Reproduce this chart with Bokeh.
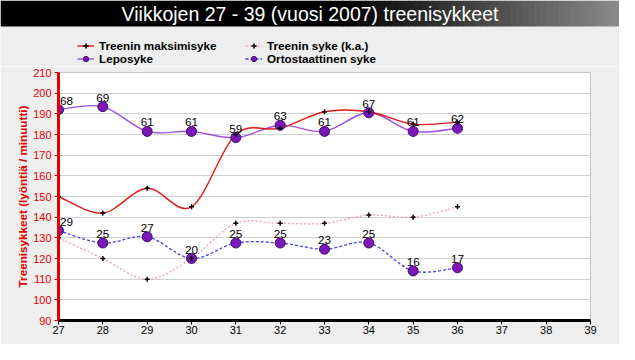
import numpy as np
from bokeh.plotting import figure
from bokeh.layouts import column
from bokeh.models import Range1d, ColumnDataSource, FixedTicker, Legend, LegendItem
from bokeh.core.properties import value
from bokeh.embed import file_html
from bokeh.resources import INLINE

# ---------------- data ----------------
title_text = "Viikkojen 27 - 39 (vuosi 2007) treenisykkeet"
y_label = "Treenisykkeet (lyöntiä / minuutti)"
weeks = [27, 28, 29, 30, 31, 32, 33, 34, 35, 36]
max_hr = [150, 142, 154, 145, 180, 183, 191, 191, 185, 186]      # Treenin maksimisyke
avg_hr = [130, 120, 110, 120, 137, 137, 137, 141, 140, 145]      # Treenin syke (k.a.)
rest_hr = [68, 69, 61, 61, 59, 63, 61, 67, 61, 62]               # Leposyke
orto_hr = [29, 25, 27, 20, 25, 25, 23, 25, 16, 17]               # Ortostaattinen syke
x_ticks = list(range(27, 40))
y_ticks = list(range(90, 211, 10))
names = ["Treenin maksimisyke", "Treenin syke (k.a.)", "Leposyke", "Ortostaattinen syke"]

FONT = "Liberation Sans"
RED = "#e01818"
PINK = "#eaa0b0"
LILA = "#a050e0"
BLUE = "#4444e0"
MFILL = "#7a18b8"
MLINE = "#3c0868"
BG = "#eeeeee"

W = 619
HH = 66          # header (title bar + legend)
HM = 278         # main chart

# ---------------- header: title bar + legend ----------------
h = figure(width=W, height=HH, output_backend="svg", toolbar_location=None,
           x_range=Range1d(0, W), y_range=Range1d(HH, 0),
           x_axis_location=None, y_axis_location=None,
           min_border_left=0, min_border_right=0, min_border_top=0, min_border_bottom=0,
           background_fill_color=BG, border_fill_color=BG, outline_line_color=None)
h.grid.visible = False
h.frame_align = False

bar_bottom = 26
g0 = 342
h.quad(left=[0], right=[g0 + 1], top=[0], bottom=[bar_bottom], fill_color="black", line_color=None)
steps = 46
lefts = [g0 + (W - g0) * k / steps for k in range(steps)]
rights = [g0 + (W - g0) * (k + 1) / steps + 0.6 for k in range(steps)]
cols = ["#%02x%02x%02x" % ((int(round(0x8a * (k + 0.5) / steps)),) * 3) for k in range(steps)]
h.quad(left=lefts, right=rights, top=[0] * steps, bottom=[bar_bottom] * steps,
       fill_color=cols, line_color=None)
h.text(x=[W / 2], y=[13.5], text=[title_text], text_align="center", text_baseline="middle",
       text_color="white", text_font=value(FONT), text_font_size="19.5px")

# legend sample renderers (a single NaN point each: nothing is drawn in the frame)
nan = [np.nan]
l_max = h.line(nan, nan, line_color=RED, line_width=1.4)
m_max = h.scatter(nan, nan, marker="cross", size=5, line_color="black", line_width=1.5)
l_avg = h.line(nan, nan, line_color=PINK, line_width=1.3, line_dash="2 2")
m_avg = h.scatter(nan, nan, marker="cross", size=5, line_color="black", line_width=1.5)
l_rest = h.line(nan, nan, line_color=LILA, line_width=1.4)
m_rest = h.scatter(nan, nan, marker="circle", size=8, fill_color=MFILL, line_color=MLINE)
l_orto = h.line(nan, nan, line_color=BLUE, line_width=1.3, line_dash="3 2")
m_orto = h.scatter(nan, nan, marker="circle", size=8, fill_color=MFILL, line_color=MLINE)


def make_legend(items, loc):
    lg = Legend(items=items, location=loc, orientation="vertical",
                background_fill_alpha=0, border_line_alpha=0, padding=0, margin=0,
                spacing=0, glyph_width=17, glyph_height=13, label_height=13,
                label_standoff=5, label_text_font=FONT, label_text_font_style="bold",
                label_text_font_size="11.7px", label_text_color="black")
    h.add_layout(lg, "center")


make_legend([LegendItem(label=names[0], renderers=[l_max, m_max]),
             LegendItem(label=names[2], renderers=[l_rest, m_rest])], (77, 1))
make_legend([LegendItem(label=names[1], renderers=[l_avg, m_avg]),
             LegendItem(label=names[3], renderers=[l_orto, m_orto])], (245, 1))

# ---------------- main chart ----------------
p = figure(width=W, height=HM, output_backend="svg", toolbar_location=None,
           x_range=Range1d(27, 39), y_range=Range1d(90, 210),
           min_border_left=58, min_border_right=29, min_border_top=6, min_border_bottom=24,
           background_fill_color="white", border_fill_color=BG,
           outline_line_color="#c4c4c4", outline_line_width=1)
p.frame_align = False
p.extra_y_ranges = {"rest": Range1d(0, 80)}

p.xaxis.ticker = FixedTicker(ticks=x_ticks)
p.yaxis.ticker = FixedTicker(ticks=y_ticks)
p.xaxis.minor_tick_line_color = None
p.yaxis.minor_tick_line_color = None
p.xaxis.axis_line_color = "black"
p.xaxis.axis_line_width = 3
p.xaxis.major_tick_line_color = "black"
p.xaxis.major_tick_out = 4
p.xaxis.major_tick_in = 0
p.xaxis.major_label_standoff = 1
p.xaxis.major_label_text_font = FONT
p.xaxis.major_label_text_font_size = "11px"
p.xaxis.major_label_text_color = "black"

p.yaxis.axis_line_color = "#e00000"
p.yaxis.axis_line_width = 3
p.yaxis.major_tick_line_color = "#e00000"
p.yaxis.major_tick_out = 4
p.yaxis.major_tick_in = 0
p.yaxis.major_label_standoff = 3
p.yaxis.major_label_text_font = FONT
p.yaxis.major_label_text_font_size = "11px"
p.yaxis.major_label_text_color = "#e00000"
p.yaxis.axis_label = y_label
p.yaxis.axis_label_text_font = FONT
p.yaxis.axis_label_text_font_style = "bold"
p.yaxis.axis_label_text_font_size = "11.7px"
p.yaxis.axis_label_text_color = "#e00000"
p.yaxis.axis_label_standoff = 1

p.xgrid.grid_line_color = None
p.ygrid.grid_line_color = "#cfcfcf"
p.ygrid.grid_line_width = 1


def smooth(xs, ys):
    """Catmull-Rom segments expressed as cubic Bezier control points."""
    xs = np.asarray(xs, float)
    ys = np.asarray(ys, float)
    xp = np.concatenate([[xs[0]], xs, [xs[-1]]])
    yp = np.concatenate([[ys[0]], ys, [ys[-1]]])
    i = np.arange(len(xs) - 1)
    P0x, P1x, P2x, P3x = xp[i], xp[i + 1], xp[i + 2], xp[i + 3]
    P0y, P1y, P2y, P3y = yp[i], yp[i + 1], yp[i + 2], yp[i + 3]
    return dict(x0=P1x, y0=P1y, x1=P2x, y1=P2y,
                cx0=P1x + (P2x - P0x) / 6, cy0=P1y + (P2y - P0y) / 6,
                cx1=P2x - (P3x - P1x) / 6, cy1=P2y - (P3y - P1y) / 6)


def curve(vals, color, width, dash="solid", rng="default"):
    p.bezier(source=ColumnDataSource(smooth(weeks, vals)), x0="x0", y0="y0", x1="x1", y1="y1",
             cx0="cx0", cy0="cy0", cx1="cx1", cy1="cy1", line_color=color, line_width=width,
             line_dash=dash, y_range_name=rng)


curve(avg_hr, PINK, 1.3, "2 2")
curve(orto_hr, BLUE, 1.3, "3 2", "rest")
curve(rest_hr, LILA, 1.4, "solid", "rest")
curve(max_hr, RED, 1.4)

p.scatter(weeks, orto_hr, marker="circle", size=10, fill_color=MFILL, line_color=MLINE,
          line_width=1, y_range_name="rest")
p.scatter(weeks, rest_hr, marker="circle", size=10, fill_color=MFILL, line_color=MLINE,
          line_width=1, y_range_name="rest")
p.scatter(weeks, avg_hr, marker="cross", size=5, line_color="black", line_width=1.5)
p.scatter(weeks, max_hr, marker="cross", size=5, line_color="black", line_width=1.5)

dx = [8 if w == weeks[0] else 0 for w in weeks]
for vals in (rest_hr, orto_hr):
    src = ColumnDataSource(dict(x=weeks, y=vals, t=[str(v) for v in vals], dx=dx))
    p.text(x="x", y="y", text="t", source=src, x_offset="dx", y_offset=-5,
           text_align="center", text_baseline="bottom", text_color="black",
           text_font=value(FONT), text_font_size="11.7px", y_range_name="rest")

layout = column(h, p, spacing=0)
open("out.html", "w").write(file_html(layout, INLINE))
